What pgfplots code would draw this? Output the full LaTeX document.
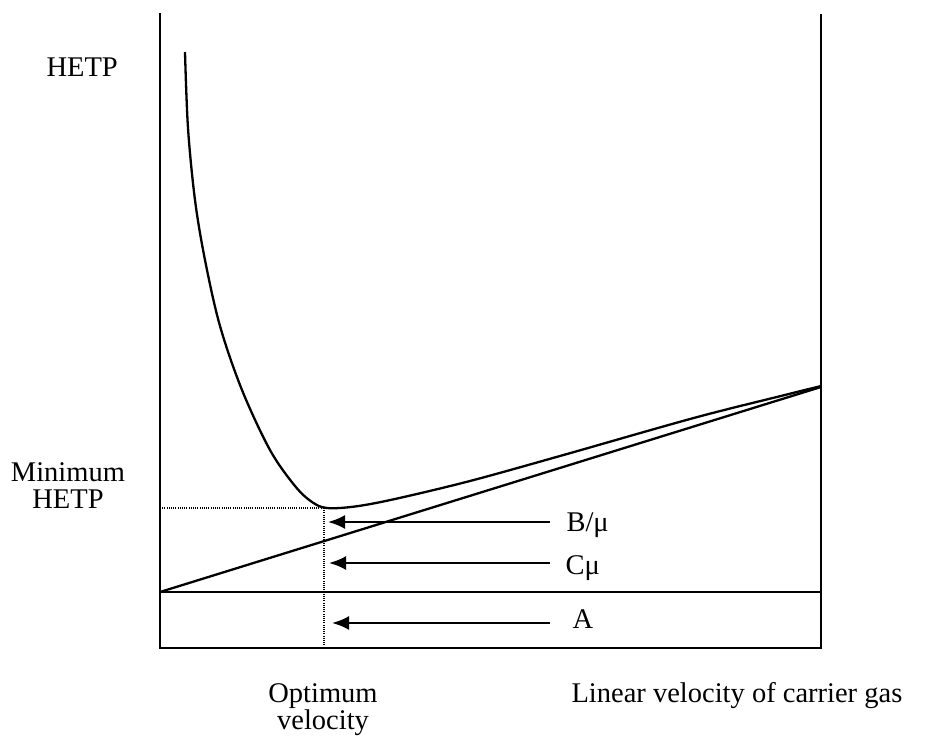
\documentclass[border=0pt]{standalone}
\usepackage{pgfplots}
\pgfplotsset{compat=1.18}
\usepackage{fontspec}
\setmainfont{Liberation Serif}
\usetikzlibrary{arrows.meta}
\newcommand\lbl{\fontsize{28.5}{27}\selectfont}

% van Deemter plot: HETP against carrier gas velocity
\pgfplotstableread{
u     h
25    596
28    520
35    448
45    388
60    322
82    258
110   198
135   162
152   146
167   140
195   141.5
235   149
310   167
400   192
533   229.8
620   251.8
660   261.7
}\hetp

\begin{document}
\begin{tikzpicture}
\begin{axis}[
  scale only axis, width=661pt, height=635pt,
  xmin=0, xmax=661, ymin=0, ymax=635,
  hide axis, clip=false,
  every node/.append style={inner sep=0pt},
]
% frame (open at the top)
\addplot[black, line width=2.8pt, line join=miter] coordinates {(0,635) (0,0) (661,0) (661,634)};
% A term: constant
\addplot[black, line width=2.6pt] coordinates {(0,56) (661,56)};
% C term: linear in velocity
\addplot[black, line width=2.3pt] coordinates {(0,56) (661,261)};
% total HETP curve
\addplot[black, line width=2.3pt, smooth, tension=0.55] table[x=u, y=h] {\hetp};
% optimum guides
\addplot[black, line width=1.1pt, dash pattern=on 1pt off 1.2pt] coordinates {(0,140) (164,140)};
\addplot[black, line width=1.1pt, dash pattern=on 1pt off 1.2pt] coordinates {(164,140) (164,0)};
% term arrows
\addplot[black, line width=2.3pt, -{Latex[length=17pt,width=14pt]}] coordinates {(390,126) (168,126)};
\addplot[black, line width=2.3pt, -{Latex[length=17pt,width=14pt]}] coordinates {(390,85) (169,85)};
\addplot[black, line width=2.3pt, -{Latex[length=17pt,width=14pt]}] coordinates {(390,25) (172,25)};
% labels
\node[font=\lbl, anchor=base west] at (axis cs:403,116) {B/μ};
\node[font=\lbl, anchor=base west] at (axis cs:402,73) {Cμ};
\node[font=\lbl, anchor=base west] at (axis cs:409,20) {A};
\node[font=\lbl, anchor=base west] at (axis cs:-117,571) {HETP};
\node[font=\lbl, anchor=base] at (axis cs:-92,166) {Minimum};
\node[font=\lbl, anchor=base] at (axis cs:-92,139) {HETP};
\node[font=\lbl, anchor=base] at (axis cs:163,-54) {Optimum};
\node[font=\lbl, anchor=base] at (axis cs:163,-81) {velocity};
\node[font=\lbl, anchor=base west] at (axis cs:408,-54) {Linear velocity of carrier gas};
\coordinate (bbSW) at (axis cs:-160,-98);
\coordinate (bbNE) at (axis cs:765,648);
\end{axis}
\pgfresetboundingbox
\useasboundingbox (bbSW) rectangle (bbNE);
\end{tikzpicture}
\end{document}
